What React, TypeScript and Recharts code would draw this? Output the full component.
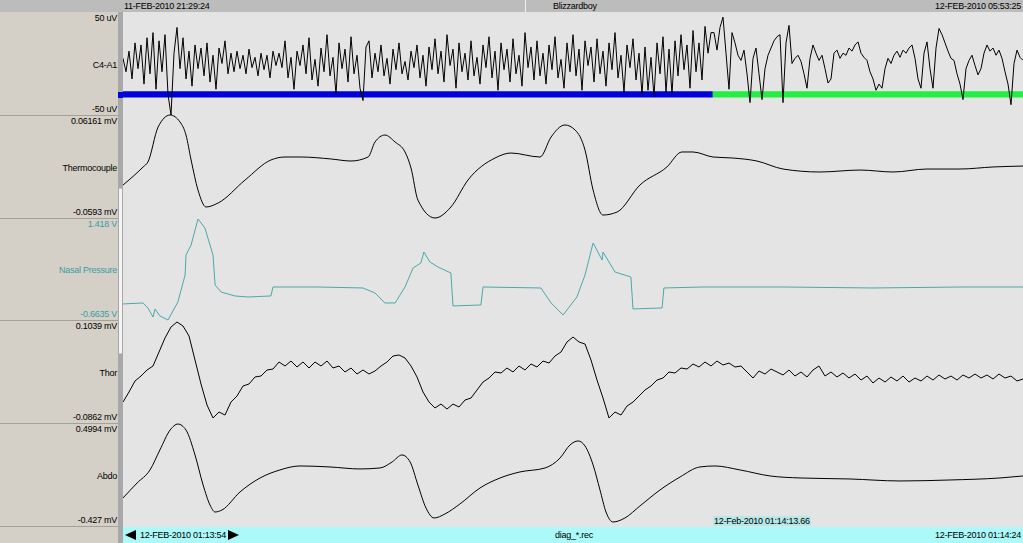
import React from 'react';
import { LineChart, Line, XAxis, YAxis, ReferenceArea, ReferenceLine } from 'recharts';

// ---------- time window (seconds from 12-FEB-2010 01:13:54) ----------
const WINDOW_SECONDS: [number, number] = [0, 30];
const CURSOR_T = 19.66;

// ---------- C4-A1 EEG (uV), sampled every 0.1 s ----------
const EEG_DT = 0.1;
const eegUv = [
  5, -8, 12, -15, 20, -5, 18, -20, 25, -10, 30, -25, 22, -8, 28, -30, -50, 10, 35, -5,
  25, -15, 12, -22, 18, -5, 15, -12, 20, -18, 8, -25, 15, 0, 22, -10, 10, -8, 12, -5,
  8, -10, 14, -4, 6, -12, 10, -6, 8, -14, 12, -2, 10, -4, 22, -14, 6, -25, 12, -2,
  18, -10, 25, -16, 4, -22, 15, -8, 28, -12, 6, -30, 20, -5, 14, -18, 26, -10, 8, -24,
  -36, 16, 22, -14, 10, -8, 18, -12, 5, -20, 14, -6, 20, -10, 2, -16, 12, -4, 18, -14,
  8, -22, 16, -6, 24, -10, 12, -18, 28, -2, 14, -24, 20, -8, 10, -16, 22, -12, 6, -20,
  18, -4, 26, -14, 12, -26, 20, -6, 14, -18, 24, -10, 8, -22, 30, -4, 16, -16, 22, -12,
  10, -20, 18, -6, 26, -14, 4, -24, 20, -8, 28, -12, 14, -26, 22, -2, 16, -18, 24, -10,
  12, -22, 20, -6, 30, -14, 8, -28, 18, -4, 24, -16, 10, -30, 16, -26, 6, -32, 20, -10,
  26, -28, 14, -30, 22, -12, 28, -6, 18, -24, 32, -8, 20, -16, 36, 10, 30,
  30, 13, 35, 45, 10, -25, 30, 20, 8, 3,
  13, -10, -38, 5, 15, -10, -35, -5, 8, 15,
  22, 26, 28, -38, 20, 37, 0, 5, 8, 2,
  -10, -24, 5, 18, 10, 3, 8, -5, -19, -15,
  10, 13, 5, 10, 8, 15, 12, 18, 21, 10,
  6, 3, -8, -15, -26, -20, -24, -5, 5, 0,
  8, 12, 6, 13, 10, 15, 18, 5, -15, -24,
  10, 21, -5, -24, 15, 34, 28, 20, 12, 5,
  3, -10, -20, -35, -5, 3, 8, -2, -11, -5,
  10, 18, 12, 15, 8, 13, 5, -8, -20, -40,
  0, 13, 6, 3,
];

// ---------- sleep stage bar segments ----------
const stageSegments = [
  { start: 0, end: 19.66, color: '#0000dd' },
  { start: 19.66, end: 30, color: '#22ee44' },
];
const STAGE_BAR_UV: [number, number] = [-33, -27];

// ---------- Thermocouple (mV) ----------
const thermoT = [0, 0.67, 0.83, 1.17, 1.57, 1.9, 2.1, 2.27, 2.5, 2.77, 3.17, 4.07, 4.93, 5.4, 5.93, 6.93, 7.6, 8.17, 8.4, 8.73,
  9.07, 9.4, 9.6, 9.83, 10.4, 10.93, 11.5, 12.4, 12.93, 13.9, 14.27, 14.73, 15.07, 15.4, 15.67, 16.0, 16.47, 17.23, 18.13, 18.63,
  19.0, 19.67, 20.33, 21.13, 22.0, 23.23, 24.57, 25.67, 26.8, 27.9, 29.0, 30];
const thermoMv = [-0.0206, 0.0006, 0.0064, 0.0475, 0.0616, 0.0534, 0.0381, 0.0088, -0.0265, -0.0464, -0.0417, -0.0147, 0.0088, 0.0123, 0.0123, 0.0100, 0.0076, 0.0123, 0.0299, 0.0381,
  0.0299, 0.0182, -0.0006, -0.0382, -0.0593, -0.0464, -0.0147, 0.0111, 0.0170, 0.0123, 0.0358, 0.0499, 0.0440, 0.0205, -0.0265, -0.0558, -0.0523, -0.0206, 0.0006, 0.0182,
  0.0182, 0.0123, 0.0111, 0.0076, -0.0018, -0.0053, -0.0030, -0.0053, -0.0018, -0.0018, 0.0006, 0.0017];

// ---------- Nasal Pressure (V) ----------
const nasalT = [0, 0.67, 0.83, 1.0, 1.07, 1.23, 1.5, 1.83, 2.07, 2.1, 2.27, 2.5, 2.73, 2.83, 3.0, 3.07, 3.27, 3.73, 4.17, 4.93,
  5.0, 6.5, 8.0, 8.4, 8.73, 9.07, 9.4, 9.67, 9.93, 10.03, 10.23, 10.5, 10.93, 11.0, 11.93, 12.0, 13.93, 14.27, 14.67, 15.13,
  15.4, 15.67, 15.97, 16.0, 16.4, 16.93, 17.0, 17.97, 18.03, 19.33, 22, 25, 28, 30];
const nasalV = [-0.336, -0.316, -0.418, -0.602, -0.438, -0.581, -0.663, -0.296, 0.255, 0.663, 0.867, 1.398, 1.214, 1.010, 0.663, 0.051, -0.092, -0.173, -0.194, -0.173,
  0.010, 0.010, -0.010, -0.112, -0.316, -0.316, 0.010, 0.398, 0.500, 0.724, 0.520, 0.418, 0.296, -0.377, -0.357, 0.010, -0.010, -0.316, -0.561, -0.194,
  0.255, 0.908, 0.561, 0.724, 0.316, 0.214, -0.438, -0.418, -0.010, 0.010, 0.010, -0.010, 0.010, 0.010];

// ---------- Thor (mV), sampled every 0.2 s ----------
const THOR_DT = 0.2;
const thorMv = [
  -0.0475, -0.0290, -0.0087, 0.0005, 0.0116, 0.0190, 0.0448, 0.0707, 0.0910, 0.1002,
  0.0928, 0.0744, 0.0301, -0.0142, -0.0530, -0.0770, -0.0659, -0.0715, -0.0475, -0.0364,
  -0.0179, -0.0142, -0.0013, 0.0005, 0.0116, 0.0134, 0.0264, 0.0190, 0.0282, 0.0171,
  0.0264, 0.0153, 0.0264, 0.0190, 0.0282, 0.0153, 0.0190, 0.0079, 0.0153, 0.0042,
  0.0116, 0.0042, 0.0098, 0.0190, 0.0264, 0.0374, 0.0393, 0.0338, 0.0190, -0.0013,
  -0.0290, -0.0475, -0.0585, -0.0512, -0.0604, -0.0512, -0.0567, -0.0438, -0.0401, -0.0253,
  -0.0106, -0.0032, 0.0079, 0.0061, 0.0153, 0.0079, 0.0190, 0.0116, 0.0227, 0.0171,
  0.0282, 0.0245, 0.0374, 0.0448, 0.0633, 0.0725, 0.0633, 0.0596, 0.0301, -0.0069,
  -0.0401, -0.0770, -0.0659, -0.0715, -0.0549, -0.0475, -0.0364, -0.0253, -0.0179, -0.0069,
  -0.0032, 0.0079, 0.0061, 0.0153, 0.0134, 0.0227, 0.0171, 0.0264, 0.0190, 0.0282,
  0.0208, 0.0245, 0.0171, 0.0190, 0.0079, -0.0032, 0.0098, 0.0042, 0.0134, 0.0079,
  0.0024, 0.0116, 0.0005, 0.0079, -0.0013, 0.0116, 0.0190, 0.0005, 0.0079, -0.0013,
  0.0061, -0.0032, 0.0042, -0.0069, 0.0005, -0.0124, -0.0032, -0.0106, -0.0013, -0.0087,
  0.0005, -0.0106, -0.0032, -0.0087, 0.0005, -0.0069, 0.0024, -0.0050, 0.0005, -0.0069,
  0.0024, -0.0032, 0.0042, -0.0032, 0.0024, -0.0050, 0.0042, -0.0032, 0.0005, -0.0087,
  -0.0050,
];

// ---------- Abdo (mV) ----------
const abdoT = [0, 0.47, 0.9, 1.23, 1.57, 1.83, 2.1, 2.4, 2.67, 2.9, 3.07, 3.3, 3.9, 4.57, 5.23, 5.9, 6.9, 7.9, 8.57, 8.97,
  9.3, 9.57, 9.83, 10.1, 10.37, 10.73, 11.23, 11.9, 12.57, 13.23, 14.07, 14.57, 14.9, 15.17, 15.4, 15.67, 15.9, 16.1, 16.33, 16.73,
  17.23, 17.9, 18.57, 19.23, 19.73, 20.57, 21.57, 22.57, 24.23, 25.9, 27.57, 29.23, 30];
const abdoMv = [-0.175, -0.040, 0.077, 0.257, 0.436, 0.490, 0.436, 0.212, -0.058, -0.238, -0.301, -0.283, -0.121, 0.005, 0.077, 0.113, 0.104, 0.086, 0.095, 0.149,
  0.212, 0.149, -0.058, -0.265, -0.355, -0.319, -0.229, -0.085, 0.005, 0.059, 0.095, 0.185, 0.302, 0.338, 0.293, 0.122, -0.103, -0.301, -0.391, -0.355,
  -0.247, -0.103, 0.014, 0.104, 0.113, 0.077, 0.023, 0.005, -0.004, -0.022, -0.013, 0.005, 0.023];

// ---------- text ----------
const headerLeft = '11-FEB-2010 21:29:24';
const headerMid = 'Blizzardboy';
const headerRight = '12-FEB-2010 05:53:25';
const footerLeft = '12-FEB-2010 01:13:54';
const footerMid = 'diag_*.rec';
const footerRight = '12-FEB-2010 01:14:24';
const cursorLabel = '12-Feb-2010 01:14:13.66';

// ---------- layout / style ----------
const W = 1023;
const H = 543;
const LEFT_W = 118;
const PLOT_LEFT = 123;
const PLOT_W = 900;
const FONT = '"Liberation Sans", Arial, sans-serif';
const TEAL = '#3a9e9e';

type Pt = { t: number; v: number };
const zip = (ts: number[], vs: number[]): Pt[] => ts.map((t, i) => ({ t, v: vs[i] }));

const channels = [
  { name: 'C4-A1', topLabel: '50 uV', bottomLabel: '-50 uV', valTop: 50, valBottom: -50, bandTop: 12, bandBottom: 115,
    data: eegUv.map((v, i) => ({ t: i * EEG_DT, v })), color: '#000000', labelColor: '#000000', curve: 'linear', stage: true },
  { name: 'Thermocouple', topLabel: '0.06161 mV', bottomLabel: '-0.0593 mV', valTop: 0.06161, valBottom: -0.0593, bandTop: 115, bandBottom: 218,
    data: zip(thermoT, thermoMv), color: '#000000', labelColor: '#000000', curve: 'monotone', stage: false },
  { name: 'Nasal Pressure', topLabel: '1.418 V', bottomLabel: '-0.6635 V', valTop: 1.418, valBottom: -0.6635, bandTop: 218, bandBottom: 320,
    data: zip(nasalT, nasalV), color: '#4aa9a9', labelColor: TEAL, curve: 'linear', stage: false },
  { name: 'Thor', topLabel: '0.1039 mV', bottomLabel: '-0.0862 mV', valTop: 0.1039, valBottom: -0.0862, bandTop: 320, bandBottom: 423,
    data: thorMv.map((v, i) => ({ t: i * THOR_DT, v })), color: '#000000', labelColor: '#000000', curve: 'linear', stage: false },
  { name: 'Abdo', topLabel: '0.4994 mV', bottomLabel: '-0.427 mV', valTop: 0.4994, valBottom: -0.427, bandTop: 423, bandBottom: 526,
    data: zip(abdoT, abdoMv), color: '#000000', labelColor: '#000000', curve: 'monotone', stage: false },
];

const txt = (extra: React.CSSProperties): React.CSSProperties => ({
  position: 'absolute', fontFamily: FONT, fontSize: 9, letterSpacing: -0.25, lineHeight: '10px', whiteSpace: 'nowrap', color: '#000', ...extra,
});

function ChannelChart({ ch }: { ch: typeof channels[number] }) {
  const pad = 14;
  const h = ch.bandBottom - ch.bandTop;
  const u = (ch.valTop - ch.valBottom) / h;
  return (
    <div style={{ position: 'absolute', left: PLOT_LEFT, top: ch.bandTop - pad }}>
      <LineChart width={PLOT_W} height={h + 2 * pad} data={ch.data} margin={{ top: 0, right: 0, bottom: 0, left: 0 }}>
        <XAxis type="number" dataKey="t" domain={WINDOW_SECONDS} hide allowDataOverflow />
        <YAxis type="number" domain={[ch.valBottom - pad * u, ch.valTop + pad * u]} hide allowDataOverflow />
        <Line dataKey="v" type={ch.curve as any} stroke={ch.color} strokeWidth={1} dot={false} isAnimationActive={false} />
        {ch.stage && stageSegments.map((s, i) => (
          <ReferenceArea key={i} x1={s.start} x2={s.end} y1={STAGE_BAR_UV[0]} y2={STAGE_BAR_UV[1]}
            fill={s.color} fillOpacity={1} stroke="none" ifOverflow="visible" />
        ))}
      </LineChart>
    </div>
  );
}

function CursorChart() {
  return (
    <div style={{ position: 'absolute', left: PLOT_LEFT, top: 12 }}>
      <LineChart width={PLOT_W} height={515} data={[{ t: 0, v: 0 }, { t: 30, v: 1 }]} margin={{ top: 0, right: 0, bottom: 0, left: 0 }}>
        <XAxis type="number" dataKey="t" domain={WINDOW_SECONDS} hide allowDataOverflow />
        <YAxis type="number" domain={[0, 1]} hide />
        <ReferenceLine x={CURSOR_T} stroke="#a6d9d9" strokeWidth={1} />
      </LineChart>
    </div>
  );
}

export default function App() {
  return (
    <div style={{ position: 'fixed', left: 0, top: 0, width: W, height: H, overflow: 'hidden', background: '#e4e4e4' }}>
      {/* left panel */}
      <div style={{ position: 'absolute', left: 0, top: 0, width: LEFT_W, height: H, background: '#d4d0c8' }} />
      {/* scroll strip */}
      <div style={{ position: 'absolute', left: LEFT_W, top: 12, width: PLOT_LEFT - LEFT_W, height: H - 12, background: '#a8a8a8' }} />
      <div style={{ position: 'absolute', left: LEFT_W + 1, top: 188, width: 3, height: 164, background: '#f4f4f4', borderTop: '1px solid #c8c8c8', borderBottom: '1px solid #c8c8c8' }} />
      {/* separators */}
      {channels.map((ch, i) => (
        <div key={i} style={{ position: 'absolute', left: 0, top: ch.bandBottom, width: LEFT_W, height: 1, background: '#a4a09a' }} />
      ))}
      {/* header */}
      <div style={{ position: 'absolute', left: 0, top: 0, width: W, height: 12, background: '#bcbcbc' }} />
      <div style={{ position: 'absolute', left: 525, top: 0, width: 1, height: 12, background: '#f0f0f0' }} />
      <div style={txt({ left: 124, top: 1 })}>{headerLeft}</div>
      <div style={txt({ left: 553, top: 1 })}>{headerMid}</div>
      <div style={txt({ right: 2, top: 1 })}>{headerRight}</div>

      {/* cursor (behind traces) */}
      <CursorChart />

      {/* channels */}
      {channels.map((ch, i) => <ChannelChart key={i} ch={ch} />)}
      {/* stage bar extension over the scroll strip */}
      <div style={{ position: 'absolute', left: LEFT_W, top: 92, width: PLOT_LEFT - LEFT_W, height: 6, background: stageSegments[0].color }} />

      {/* channel labels */}
      {channels.map((ch, i) => (
        <React.Fragment key={i}>
          <div style={txt({ left: 0, width: 117, textAlign: 'right', top: ch.bandTop + 1, color: ch.labelColor })}>{ch.topLabel}</div>
          <div style={txt({ left: 0, width: 117, textAlign: 'right', top: (ch.bandTop + ch.bandBottom) / 2 - 4, color: ch.labelColor })}>{ch.name}</div>
          <div style={txt({ left: 0, width: 117, textAlign: 'right', top: ch.bandBottom - 11, color: ch.labelColor })}>{ch.bottomLabel}</div>
        </React.Fragment>
      ))}

      {/* footer */}
      <div style={{ position: 'absolute', left: PLOT_LEFT, top: 527, width: PLOT_W, height: 16, background: '#abf9f9' }} />
      <div style={{ position: 'absolute', left: 125, top: 530, width: 0, height: 0, borderTop: '5px solid transparent', borderBottom: '5px solid transparent', borderRight: '11px solid #000' }} />
      <div style={txt({ left: 140, top: 530 })}>{footerLeft}</div>
      <div style={{ position: 'absolute', left: 228, top: 530, width: 0, height: 0, borderTop: '5px solid transparent', borderBottom: '5px solid transparent', borderLeft: '11px solid #000' }} />
      <div style={txt({ left: 555, top: 530 })}>{footerMid}</div>
      <div style={txt({ right: 2, top: 530 })}>{footerRight}</div>
      {/* cursor label */}
      <div style={txt({ left: 713, top: 516, background: '#b6e8e8', padding: '0 1px' })}>{cursorLabel}</div>
    </div>
  );
}
